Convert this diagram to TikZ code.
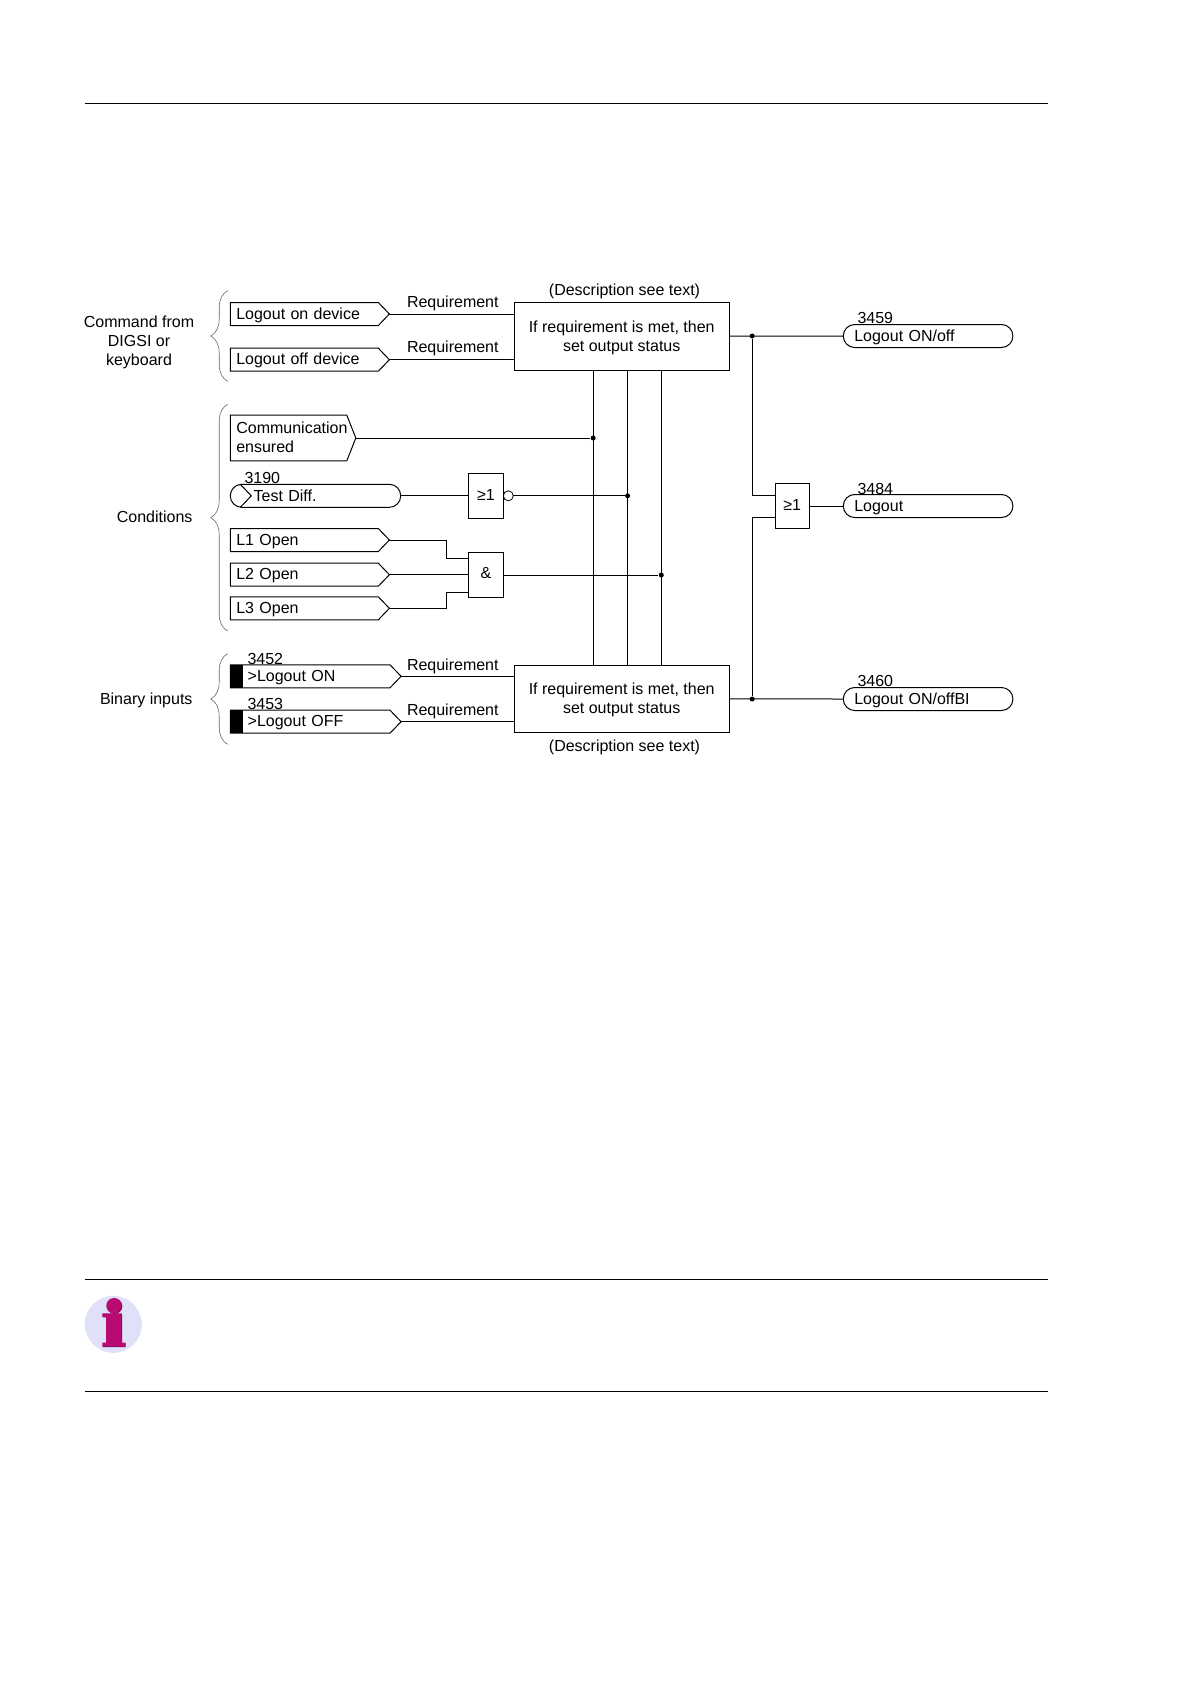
\documentclass[tikz,border=0pt]{standalone}
\usepackage{fontspec}
\setmainfont{Liberation Sans}
\usetikzlibrary{shapes.symbols,decorations.pathreplacing}
\definecolor{infodisc}{HTML}{E0E0F8}
\definecolor{infomark}{HTML}{B80A70}
\definecolor{infoshade}{HTML}{5A0A4A}

\begin{document}
\begin{tikzpicture}[
    x=1pt, y=-1pt,
    line width=1pt,
    every node/.style={font=\fontsize{16}{19}\selectfont},
    lbl/.style={inner sep=0pt, text height=11.5pt, text depth=0pt},
    lblw/.style={lbl, anchor=west},
    para/.style={inner sep=0pt, align=center, anchor=center},
    tag/.style={signal, signal to=east, signal from=nowhere, signal pointer angle=92, draw, anchor=west, inner ysep=0pt, minimum height=23pt, outer sep=0pt, align=left, text height=11.5pt, text depth=1.5pt},
    devtag/.style={tag, inner xsep=6pt, text width=136pt},
    bintag/.style={tag, inner xsep=17.4pt, text width=124.9pt},
    pill/.style={draw, rectangle, rounded corners=11.4pt, anchor=west, inner ysep=0pt, minimum height=23pt, outer sep=0pt, align=left, text height=11.5pt, text depth=1.5pt},
    gatebox/.style={draw, rectangle, minimum width=34.6pt, inner sep=0pt, outer sep=0pt},
    statusbox/.style={draw, rectangle, minimum width=215.4pt, minimum height=67.8pt, inner sep=0pt, outer sep=0pt, align=center},
    dot/.style={circle, fill=black, inner sep=0pt, minimum size=5pt},
    invert/.style={draw, circle, inner sep=0pt, minimum size=10pt, outer sep=0pt, anchor=west, line width=0.8pt},
    blackbar/.style={fill=black, inner sep=0pt, minimum width=12.4pt, minimum height=23pt, anchor=west},
    curly/.style={draw=black!60, line width=0.6pt, decorate, decoration={brace, amplitude=17pt}}
]
    \useasboundingbox (0,0) rectangle (1190,1684);

    % Page rules
    \draw (85,103.5) -- (1048,103.5);
    \draw (85,1279.3) -- (1048,1279.3);
    \draw (85,1391.3) -- (1048,1391.3);

    % Info icon
    \fill[infodisc] (113.3,1324.3) circle (28.5);
    \fill[infoshade] (114.6,1306.2) circle (7.7);
    \fill[infoshade] (102.8,1313.8) -- (122.2,1313.8) -- (122.2,1343.2) -- (125.6,1343.2) -- (125.6,1347.2) -- (102.8,1347.2) -- (102.8,1343.2) -- (106.5,1343.2) -- (106.5,1317.3) -- (102.8,1317.3) -- cycle;
    \fill[infomark] (114,1305.7) circle (7.7);
    \fill[infomark] (102.3,1313.3) -- (121.7,1313.3) -- (121.7,1342.7) -- (125,1342.7) -- (125,1346.7) -- (102.3,1346.7) -- (102.3,1342.7) -- (106,1342.7) -- (106,1316.8) -- (102.3,1316.8) -- cycle;

    % Group labels and braces
    \node[para] (cmdlabel) at (139,342) {Command from\\DIGSI or\\keyboard};
    \node[lbl, anchor=east] (condlabel) at (193,516.7) {Conditions};
    \node[lbl, anchor=east] (binlabel) at (193,698.3) {Binary inputs};
    \draw[curly] (227.7,381.3) -- (227.7,290.7);
    \draw[curly] (227.7,631) -- (227.7,404.3);
    \draw[curly] (227.7,744.3) -- (227.7,653.7);

    % Inputs
    \node[devtag] (logon) at (230.3,314) {Logout on device};
    \node[devtag] (logoff) at (230.3,359.7) {Logout off device};
    \node[tag, signal pointer angle=137, inner xsep=0pt, text width=116.5pt, minimum height=45.7pt, text height=, text depth=] (comm) at (230.3,438) {\hspace*{6pt}\mbox{Communication}\\\hspace*{6pt}ensured\rule[-2.2pt]{0pt}{1pt}};
    \node[pill, inner xsep=23.4pt, text width=123.6pt, text depth=0.5pt] (testdiff) at (230.3,495.8) {Test Diff.};
    \draw ([xshift=10pt]testdiff.north west) -- ([xshift=21pt]testdiff.west) -- ([xshift=10pt]testdiff.south west);
    \node[devtag] (lone) at (230.3,540) {L1 Open};
    \node[devtag] (ltwo) at (230.3,574.7) {L2 Open};
    \node[devtag] (lthree) at (230.3,608.3) {L3 Open};
    \node[bintag] (logonbi) at (230.3,676.3) {>Logout ON};
    \node[blackbar] (baron) at (logonbi.west) {};
    \node[bintag] (logoffbi) at (230.3,721.7) {>Logout OFF};
    \node[blackbar] (baroff) at (logoffbi.west) {};

    % Function numbers
    \node[lblw] (numtest) at (244,478) {3190};
    \node[lblw] (numon) at (247,659) {3452};
    \node[lblw] (numoff) at (247,704) {3453};
    \node[lblw] (numonoff) at (857,318) {3459};
    \node[lblw] (numlogout) at (857,488.7) {3484};
    \node[lblw] (numonoffbi) at (857,681) {3460};

    % Status blocks
    \node[statusbox] (topstatus) at (621.7,336.2) {\rule{0pt}{14pt}If requirement is met, then\\set output status};
    \node[statusbox] (botstatus) at (621.7,698.9) {\rule{0pt}{14pt}If requirement is met, then\\set output status};
    \node[lbl] (topdesc) at (624.5,290) {(Description see text)};
    \node[lbl] (botdesc) at (624.5,745.5) {(Description see text)};
    \node[lbl] (reqa) at (452.8,302) {Requirement};
    \node[lbl] (reqb) at (452.8,347) {Requirement};
    \node[lbl] (reqc) at (452.8,665) {Requirement};
    \node[lbl] (reqd) at (452.8,710) {Requirement};

    % Gates
    \node[gatebox, minimum height=45pt] (orgate) at (486,495.8) {\raisebox{2.5pt}{≥1}};
    \node[invert] (inv) at (orgate.east) {};
    \node[gatebox, minimum height=45.4pt] (andgate) at (486,575) {\raisebox{3.5pt}{\&}};
    \node[gatebox, minimum width=34pt, minimum height=45.4pt] (outgate) at (792.2,506) {\raisebox{3pt}{≥1}};

    % Outputs
    \node[pill, inner xsep=11pt, text width=147.6pt] (outon) at (843.3,336) {Logout ON/off};
    \node[pill, inner xsep=11pt, text width=147.6pt] (outlog) at (843.3,506) {Logout};
    \node[pill, inner xsep=11pt, text width=147.6pt] (outbi) at (843.3,699) {Logout ON/offBI};

    % Junctions
    \node[dot] (jcomm) at (593.2,438) {};
    \node[dot] (jtest) at (627.6,495.8) {};
    \node[dot] (jand) at (661.3,575) {};
    \node[dot] (jtop) at (752.2,336) {};
    \node[dot] (jbot) at (752.2,699) {};
    \coordinate (kinka) at (446,558.3);
    \coordinate (kinkb) at (446,592);
    \coordinate (ina) at (outgate.west |- 0,495);
    \coordinate (inb) at (outgate.west |- 0,517.7);

    % Connections
    \draw (logon.east) -- (logon.east -| topstatus.west);
    \draw (logoff.east) -- (logoff.east -| topstatus.west);
    \draw (logonbi.east) -- (logonbi.east -| botstatus.west);
    \draw (logoffbi.east) -- (logoffbi.east -| botstatus.west);
    \draw (comm.east) -- (jcomm);
    \draw (testdiff.east) -- (orgate.west);
    \draw (inv.east) -- (jtest);
    \draw (lone.east) -| (kinka) -- (kinka -| andgate.west);
    \draw (ltwo.east) -- (ltwo.east -| andgate.west);
    \draw (lthree.east) -| (kinkb) -- (kinkb -| andgate.west);
    \draw (andgate.east) -- (jand);
    \draw (jcomm |- topstatus.south) -- (jcomm |- botstatus.north);
    \draw (jtest |- topstatus.south) -- (jtest |- botstatus.north);
    \draw (jand |- topstatus.south) -- (jand |- botstatus.north);
    \draw (topstatus.east) -- (outon.west);
    \draw (botstatus.east) -- (outbi.west);
    \draw (jtop) |- (ina);
    \draw (jbot) |- (inb);
    \draw (outgate.east) -- (outlog.west);
\end{tikzpicture}
\end{document}
